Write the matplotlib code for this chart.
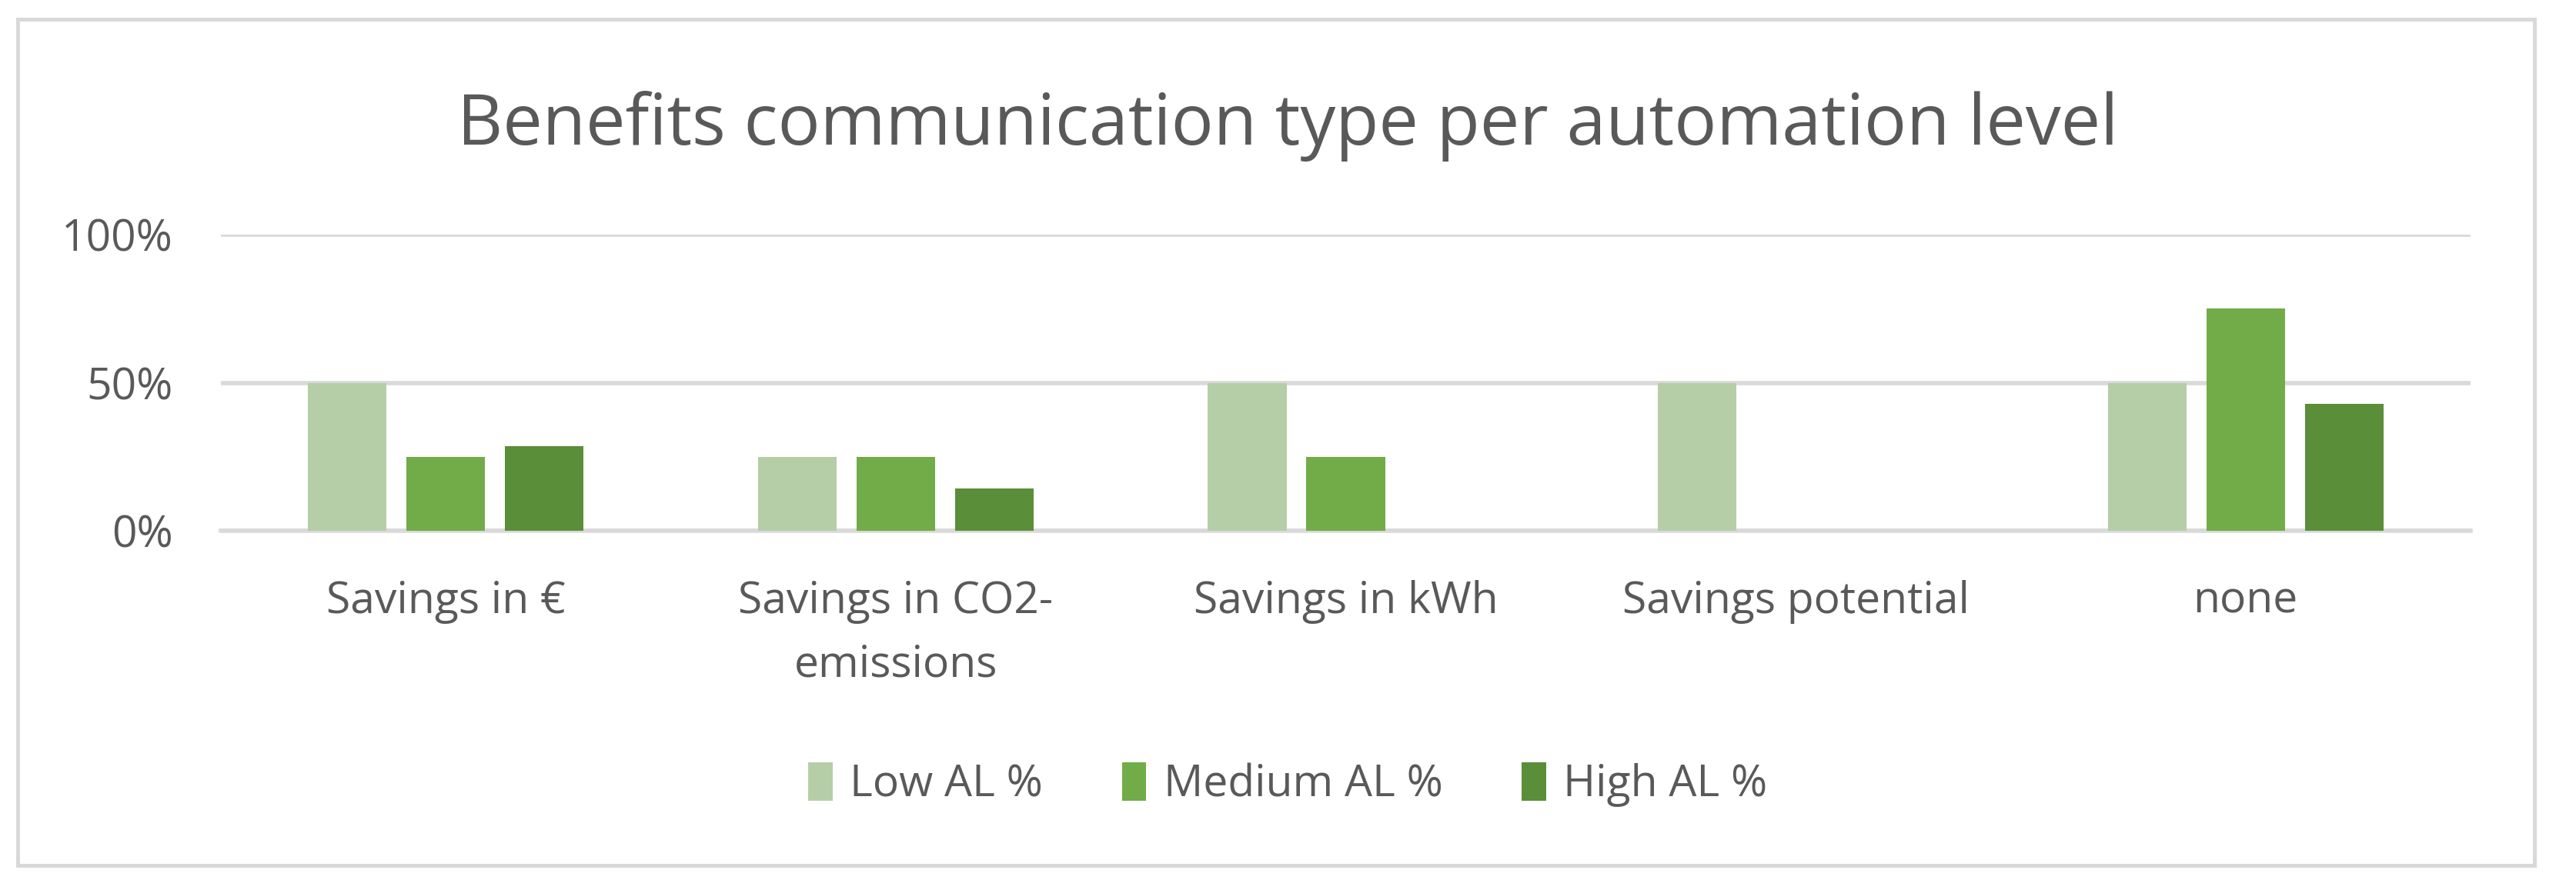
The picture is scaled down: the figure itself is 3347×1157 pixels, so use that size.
import numpy as np
import matplotlib
matplotlib.use("Agg")
import matplotlib.pyplot as plt
from matplotlib.patches import Rectangle
from matplotlib.ticker import PercentFormatter

categories = ["Savings in €", "Savings in CO2-\nemissions", "Savings in kWh",
              "Savings potential", "none"]
low_al = [50, 25, 50, 50, 50]
medium_al = [25, 25, 25, 0, 75]
high_al = [28.57, 14.29, 0, 0, 42.86]
series_names = ["Low AL %", "Medium AL %", "High AL %"]
colors = ["#B5CEA7", "#71AC48", "#5A8E39"]
text_color = "#595959"
grid_color = "#D9D9D9"

plt.rcParams["font.family"] = ["Open Sans", "DejaVu Sans"]

W, H = 3347, 1157
fig = plt.figure(figsize=(W / 100, H / 100), dpi=100)

# chart border
fig.patches.append(Rectangle((23 / W, 1 - 1125 / H), (3293 - 23) / W, (1125 - 25) / H,
                             transform=fig.transFigure, fill=False,
                             edgecolor=grid_color, linewidth=3.6))

ax = fig.add_axes([287 / W, 1 - 690 / H, (3210 - 287) / W, (690 - 305) / H])

x = np.arange(len(categories))
bw = 0.175
step = 0.219
for i, (vals, name) in enumerate(zip([low_al, medium_al, high_al], series_names)):
    ax.bar(x + (i - 1) * step, vals, width=bw, color=colors[i], label=name, zorder=3)

ax.set_xlim(-0.5, len(categories) - 0.5)
ax.set_ylim(0, 100)
ax.set_yticks([0, 50, 100])
ax.yaxis.set_major_formatter(PercentFormatter(decimals=0))
ax.grid(axis="y", color=grid_color, linewidth=4, zorder=0)
ax.set_xticks(x)
ax.set_xticklabels(categories, fontsize=41, color=text_color, linespacing=1.6)
ax.tick_params(axis="y", labelsize=41, labelcolor=text_color, length=0, pad=45)
ax.tick_params(axis="x", length=0, pad=46)
for s in ax.spines.values():
    s.set_visible(False)
ax.spines["bottom"].set_visible(True)
ax.spines["bottom"].set_color(grid_color)
ax.spines["bottom"].set_linewidth(4)

fig.text(0.5, 1 - 164 / H, "Benefits communication type per automation level",
         ha="center", va="center", fontsize=66, color=text_color)

fig.legend(loc="center", bbox_to_anchor=(0.5, 1 - 1020 / H), ncol=3, frameon=False,
           fontsize=41, labelcolor=text_color, handlelength=0.55, handleheight=1.0,
           handletextpad=0.4, columnspacing=1.8)

fig.savefig("out.png", dpi=100, facecolor="white")
